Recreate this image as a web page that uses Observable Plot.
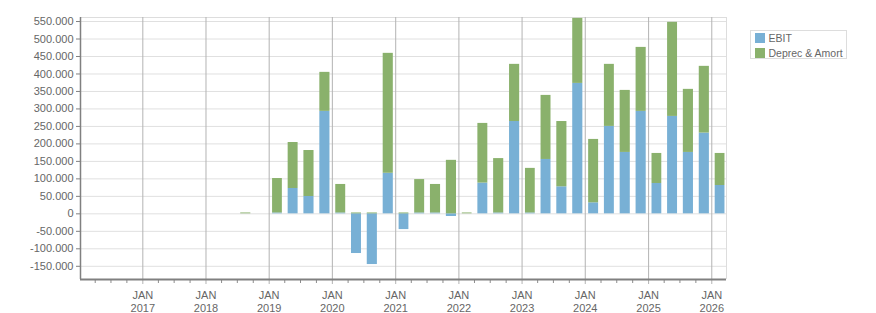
<!DOCTYPE html>
<html>
<head>
<meta charset="utf-8">
<script src="https://cdn.jsdelivr.net/npm/d3@7"></script>
<script src="https://cdn.jsdelivr.net/npm/@observablehq/plot@0.6"></script>
<style>
  body { margin: 0; background: #fff; font-family: "Liberation Sans", Arial, sans-serif; }
  #chart { position: relative; width: 876px; height: 313px; }
  .legend { position: absolute; left: 750px; top: 30px; width: 95px; height: 27px; border: 1px solid #dddddd; background: #fff; }
  .legend .item { position: absolute; left: 4px; height: 11px; font-size: 10.5px; line-height: 11px; color: #666; white-space: nowrap; }
  .legend .sw { display: inline-block; width: 10px; height: 10px; vertical-align: top; margin-right: 3.5px; }
</style>
</head>
<body>
<div id="chart"></div>
<script>
// Quarterly EBIT and depreciation & amortisation (quarter start dates)
const quarters = [
  "2018-07-01", "2018-10-01",
  "2019-01-01", "2019-04-01", "2019-07-01", "2019-10-01",
  "2020-01-01", "2020-04-01", "2020-07-01", "2020-10-01",
  "2021-01-01", "2021-04-01", "2021-07-01", "2021-10-01",
  "2022-01-01", "2022-04-01", "2022-07-01", "2022-10-01",
  "2023-01-01", "2023-04-01", "2023-07-01", "2023-10-01",
  "2024-01-01", "2024-04-01", "2024-07-01", "2024-10-01",
  "2025-01-01", "2025-04-01", "2025-07-01", "2025-10-01",
  "2026-01-01"
];
const ebit = [
  0, 0,
  2500, 72500, 49600, 293000,
  2500, -113500, -145000, 116000,
  -45000, 2500, 2500, -7600,
  0, 88000, 2500, 264000,
  2500, 155500, 77300, 373000,
  31500, 250000, 175600, 293000,
  86800, 278600, 175600, 231000,
  81000
];
const deprecAmort = [
  2500, 0,
  98500, 131500, 131500, 111600,
  81500, 2500, 2500, 343000,
  2500, 95500, 81500, 153000,
  2500, 170600, 155500, 163500,
  127500, 183200, 186700, 186000,
  181300, 177500, 177400, 183000,
  85900, 269100, 180400, 190800,
  91700
];
const seriesNames = ["EBIT", "Deprec & Amort"];
const seriesColors = ["#78b0d5", "#8ab16c"];
const yTicks = d3.range(-150000, 550001, 50000);
const tickYears = d3.range(2017, 2027);

// Stack each quarter: positive values upward from zero, negative values downward
const rows = [];
quarters.forEach((q, i) => {
  const start = new Date(q);
  const end = d3.utcMonth.offset(start, 3);
  let pos = 0, neg = 0;
  [ebit[i], deprecAmort[i]].forEach((v, k) => {
    let y1, y2;
    if (v >= 0) { y1 = pos; y2 = pos + v; pos = y2; }
    else { y1 = neg; y2 = neg + v; neg = y2; }
    rows.push({start, end, series: seriesNames[k], value: v, y1, y2});
  });
});

const xDomain = [new Date("2016-01-07"), new Date("2026-03-27")];
const yDomain = [-187800, 561500];
const janDates = tickYears.map(y => new Date(Date.UTC(y, 0, 1)));
const quarterTicks = d3.utcMonth.every(3).range(new Date("2016-04-01"), xDomain[1])
  .filter(d => d.getUTCMonth() !== 0);

const fmt = d3.formatLocale({decimal: ",", thousands: ".", grouping: [3], currency: ["", ""], minus: "-"}).format(",d");

const chart = Plot.plot({
  width: 876,
  height: 313,
  marginLeft: 80,
  marginRight: 150,
  marginTop: 17,
  marginBottom: 34,
  style: {fontFamily: "'Liberation Sans', Arial, sans-serif", fontSize: "11px", background: "#fff"},
  x: {type: "utc", domain: xDomain, label: null, axis: null},
  y: {domain: yDomain, label: null, axis: null},
  color: {domain: seriesNames, range: seriesColors},
  marks: [
    Plot.gridY(yTicks, {stroke: "#e0e0e0", strokeOpacity: 1}),
    Plot.ruleY([yDomain[1]], {stroke: "#dddddd"}),
    Plot.ruleX([xDomain[1]], {stroke: "#dddddd"}),
    Plot.gridX(janDates, {stroke: "#b3b3b3", strokeOpacity: 1}),
    Plot.rect(rows, {x1: "start", x2: "end", y1: "y1", y2: "y2", fill: "series", insetLeft: 3.4, insetRight: 2.4}),
    Plot.axisX(quarterTicks, {anchor: "bottom", tickSize: 4, stroke: "#8c8c8c", tickFormat: () => "", label: null}),
    Plot.axisX(janDates, {anchor: "bottom", tickSize: 5, tickPadding: 5, stroke: "#b3b3b3", fill: "#666",
      tickFormat: d => "JAN\n" + d.getUTCFullYear(), lineHeight: 1.18, fontSize: 11, label: null}),
    Plot.ruleY([yDomain[0]], {stroke: "#808080", strokeWidth: 2}),
    Plot.ruleX([xDomain[0]], {stroke: "#808080", strokeWidth: 1.5}),
    Plot.axisY(yTicks, {anchor: "left", tickSize: 4, tickPadding: 3, stroke: "#808080", fill: "#666",
      tickFormat: fmt, fontSize: 11, label: null})
  ]
});

const root = document.getElementById("chart");
root.appendChild(chart);

const legend = document.createElement("div");
legend.className = "legend";
seriesNames.forEach((name, k) => {
  const item = document.createElement("div");
  item.className = "item";
  item.style.top = (2 + k * 14.5) + "px";
  const sw = document.createElement("span");
  sw.className = "sw";
  sw.style.background = seriesColors[k];
  item.appendChild(sw);
  item.appendChild(document.createTextNode(name));
  legend.appendChild(item);
});
root.appendChild(legend);
</script>
</body>
</html>
